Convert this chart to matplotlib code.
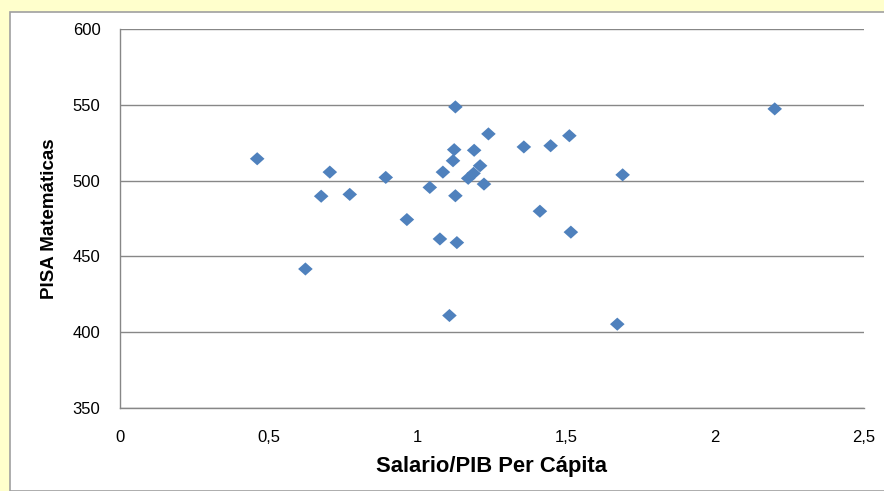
import matplotlib
matplotlib.use("Agg")
import matplotlib.pyplot as plt
from matplotlib.patches import Rectangle
from matplotlib.ticker import FuncFormatter

plt.rcParams['font.family'] = ['Liberation Sans', 'DejaVu Sans']

salario_pib = [0.461, 0.623, 0.676, 0.705, 0.772, 0.893, 0.964, 1.041, 1.075, 1.085,
               1.107, 1.119, 1.123, 1.127, 1.127, 1.132, 1.170, 1.188, 1.190, 1.210,
               1.223, 1.238, 1.357, 1.411, 1.447, 1.510, 1.515, 1.671, 1.689, 2.200]
pisa_mat = [514.4, 441.7, 489.7, 505.6, 490.9, 502.1, 474.3, 495.5, 461.5, 505.6,
            411.0, 513.1, 520.4, 548.6, 490.0, 459.1, 501.5, 504.8, 520.0, 509.8,
            497.7, 530.8, 522.2, 479.8, 523.0, 529.6, 466.0, 405.3, 503.8, 547.3]
x_ticks = [0, 0.5, 1, 1.5, 2, 2.5]
y_ticks = [350, 400, 450, 500, 550, 600]

W, H = 884, 491
fig = plt.figure(figsize=(W / 100, H / 100), dpi=100)
fig.patch.set_facecolor('#FFFFCC')
fig.patches.append(Rectangle((10 / W, 0), 1.0, 1 - 12 / H, transform=fig.transFigure,
                             facecolor='white', edgecolor='#A0A0A0', linewidth=1.2, zorder=-10))

ax = fig.add_axes([120 / W, 1 - 408 / H, (864 - 120) / W, (408 - 29) / H])
ax.set_facecolor('white')

diamond = [(-1, 0), (0, 0.9), (1, 0), (0, -0.9), (-1, 0)]
ax.scatter(salario_pib, pisa_mat, marker=diamond, s=10.5 ** 2, color='#4F81BD',
           edgecolors='none', zorder=3)

ax.set_xlim(0, 2.5)
ax.set_ylim(350, 600)
ax.set_xticks(x_ticks)
ax.set_yticks(y_ticks)
fmt = FuncFormatter(lambda v, p: ('%g' % v).replace('.', ','))
ax.xaxis.set_major_formatter(fmt)
ax.yaxis.set_major_formatter(fmt)
ax.tick_params(length=0, labelsize=12, colors='black')
ax.tick_params(axis='x', pad=16)
ax.tick_params(axis='y', pad=14)
ax.grid(axis='y', color='#878787', linewidth=1.0)
ax.set_axisbelow(True)
for s in ['top', 'right']:
    ax.spines[s].set_visible(False)
for s in ['left', 'bottom']:
    ax.spines[s].set_color('#878787')
    ax.spines[s].set_linewidth(1.0)

ax.set_xlabel('Salario/PIB Per Cápita', fontsize=15.8, fontweight='bold', labelpad=8)
ax.set_ylabel('PISA Matemáticas', fontsize=13.5, fontweight='bold', labelpad=11)

fig.savefig('out.png', dpi=100, facecolor=fig.get_facecolor())
